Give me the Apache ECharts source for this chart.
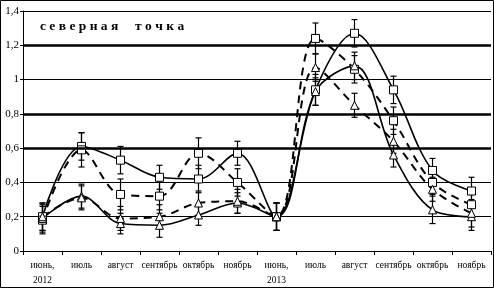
<!DOCTYPE html>
<html><head><meta charset="utf-8">
<script src="https://cdn.jsdelivr.net/npm/echarts@6/dist/echarts.min.js"></script>
<style>html,body{margin:0;padding:0;background:#fff}#c{width:494px;height:288px}</style>
</head><body><div id="c"></div>
<script>
// ---- data ----
const months = ['июнь,', 'июль', 'август', 'сентябрь', 'октябрь', 'ноябрь', 'июнь,', 'июль', 'август', 'сентябрь', 'октябрь', 'ноябрь'];
const years  = ['2012', '', '', '', '', '', '2013', '', '', '', '', ''];
const titleText = 'с е в е р н а я     т о ч к а';

const s1 = [0.20, 0.61, 0.53, 0.43, 0.42, 0.57, 0.20, 0.94, 1.27, 0.94, 0.47, 0.35]; // solid, squares
const s2 = [0.18, 0.59, 0.33, 0.32, 0.57, 0.40, 0.20, 1.24, 1.06, 0.76, 0.40, 0.27]; // dashed, squares
const s3 = [0.19, 0.32, 0.16, 0.15, 0.21, 0.28, 0.20, 0.93, 1.08, 0.56, 0.24, 0.20]; // solid, triangles
const s4 = [0.20, 0.31, 0.19, 0.20, 0.28, 0.29, 0.20, 1.07, 0.85, 0.64, 0.36, 0.22]; // dashed, triangles

const e1 = [0.08, 0.08, 0.08, 0.07, 0.08, 0.07, 0.08, 0.09, 0.08, 0.08, 0.07, 0.08];
const e2 = [0.08, 0.10, 0.09, 0.08, 0.09, 0.08, 0.08, 0.09, 0.08, 0.08, 0.07, 0.08];
const e3 = [0.08, 0.07, 0.06, 0.07, 0.06, 0.06, 0.08, 0.08, 0.08, 0.07, 0.08, 0.08];
const e4 = [0.08, 0.07, 0.07, 0.07, 0.07, 0.07, 0.08, 0.08, 0.07, 0.07, 0.07, 0.08];

const thickGrid = [0.6, 0.8, 1.2];

// ---- chart ----
const categories = months.map((m, i) => years[i] ? m + '\n' + years[i] : m);
const chart = echarts.init(document.getElementById('c'), null, {renderer: 'canvas'});

function errSeries(vals, errs) {
  return {
    type: 'custom', silent: true, z: 3,
    data: vals.map((v, i) => [i, v - errs[i], v + errs[i]]),
    encode: {x: 0, y: [1, 2]},
    renderItem: function (params, api) {
      const x = api.value(0);
      const p1 = api.coord([x, api.value(1)]);
      const p2 = api.coord([x, api.value(2)]);
      const w = 3;
      const st = {stroke: '#000', lineWidth: 1.2};
      return {type: 'group', children: [
        {type: 'line', shape: {x1: p1[0], y1: p1[1], x2: p2[0], y2: p2[1]}, style: st},
        {type: 'line', shape: {x1: p1[0] - w, y1: p1[1], x2: p1[0] + w, y2: p1[1]}, style: st},
        {type: 'line', shape: {x1: p2[0] - w, y1: p2[1], x2: p2[0] + w, y2: p2[1]}, style: st}
      ]};
    }
  };
}

function lineSeries(vals, dashed, symbol, extra) {
  return Object.assign({
    type: 'line', data: vals, smooth: 0.35, z: 4,
    symbol: symbol, symbolSize: 8,
    showSymbol: true,
    lineStyle: {color: '#000', width: dashed ? 2 : 1.6, type: dashed ? [8, 6] : 'solid'},
    itemStyle: {color: '#fff', borderColor: '#000', borderWidth: 1},
    emphasis: {disabled: true}, animation: false
  }, extra || {});
}

chart.setOption({
  animation: false,
  backgroundColor: '#fff',
  title: {
    text: titleText, left: 35, top: 15,
    textStyle: {fontFamily: 'Liberation Serif', fontWeight: 'bold', fontSize: 13.5, color: '#000'}
  },
  grid: {left: 23, right: 3, top: 11, bottom: 35, containLabel: false},
  xAxis: {
    type: 'category', data: categories, boundaryGap: true,
    axisLine: {lineStyle: {color: '#000', width: 1}},
    axisTick: {show: true, length: 4, inside: false, lineStyle: {color: '#000'}},
    axisLabel: {interval: 0, color: '#000', fontFamily: 'Liberation Serif', fontSize: 9.5, lineHeight: 15, margin: 7},
    splitLine: {show: false}
  },
  yAxis: {
    type: 'value', min: 0, max: 1.4, interval: 0.2,
    axisLine: {show: true, lineStyle: {color: '#000', width: 1}},
    axisTick: {show: true, length: 3, lineStyle: {color: '#000'}},
    axisLabel: {color: '#000', fontFamily: 'Liberation Serif', fontSize: 11, margin: 4,
      formatter: v => String(+v.toFixed(1)).replace('.', ',')},
    splitLine: {show: true, lineStyle: {color: '#000', width: 1}}
  },
  graphic: [{
    type: 'rect', shape: {x: 0.5, y: 0.5, width: 493, height: 287},
    style: {fill: 'none', stroke: '#000', lineWidth: 1}, silent: true, z: 100
  }],
  series: [
    lineSeries(s1, false, 'rect', {
      markLine: {
        silent: true, symbol: 'none', label: {show: false},
        lineStyle: {color: '#000', width: 2.5, type: 'solid'},
        data: thickGrid.map(v => ({yAxis: v}))
      }
    }),
    lineSeries(s2, true, 'rect'),
    lineSeries(s3, false, 'triangle'),
    lineSeries(s4, true, 'triangle'),
    errSeries(s1, e1), errSeries(s2, e2), errSeries(s3, e3), errSeries(s4, e4)
  ]
});
</script>
</body></html>
